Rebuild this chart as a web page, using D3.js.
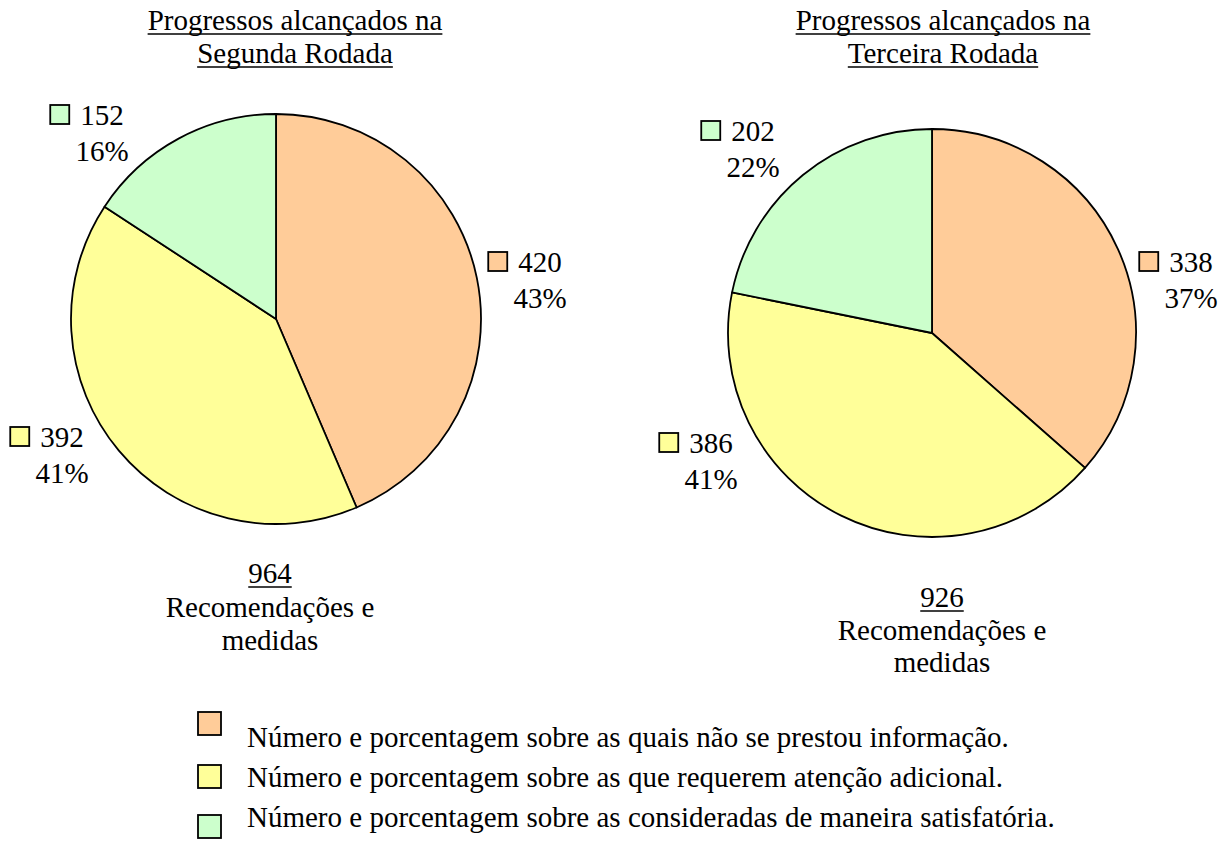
<!DOCTYPE html>
<html><head><meta charset="utf-8">
<script src="https://cdn.jsdelivr.net/npm/d3@7/dist/d3.min.js"></script></head>
<body style="margin:0">
<svg id="chart" width="1228" height="842"></svg>
<script>
// Categories (in slice order, clockwise from 12 o'clock)
const categories = ["sem informação", "atenção adicional", "satisfatória"];
const sliceColors = ["#FFCC99", "#FFFF99", "#CCFFCC"];

// Series values
const segundaValues = [420, 392, 152];
const terceiraValues = [338, 386, 202];

// Percentage labels as printed on each slice
const segundaPercents = ["43%", "41%", "16%"];
const terceiraPercents = ["37%", "41%", "22%"];

// Titles and totals text
const segundaTitle = ["Progressos alcançados na", "Segunda Rodada"];
const terceiraTitle = ["Progressos alcançados na", "Terceira Rodada"];
const totalCaption = ["Recomendações e", "medidas"];

// Legend entries
const legendLabels = [
  "Número e porcentagem sobre as quais não se prestou informação.",
  "Número e porcentagem sobre as que requerem atenção adicional.",
  "Número e porcentagem sobre as consideradas de maneira satisfatória."
];

const FONT = 29;
const svg = d3.select("#chart");

function txt(sel) {
  return sel.style("font-family", '"Liberation Serif"')
    .style("font-size", FONT + "px");
}

// Underline drawn as a line under a centred text element
function underline(textSel) {
  const w = textSel.node().getComputedTextLength();
  const x = +textSel.attr("x"), y = +textSel.attr("y");
  svg.append("line")
    .attr("x1", x - w / 2).attr("x2", x + w / 2)
    .attr("y1", y + 4).attr("y2", y + 4)
    .attr("stroke", "#000").attr("stroke-width", 1.6);
}

const charts = [
  {
    values: segundaValues, percents: segundaPercents, title: segundaTitle,
    cx: 276, cy: 319, r: 205,
    titleX: 295, titleY: [30, 63],
    totalX: 270, totalY: [583, 617, 650],
    // label anchor (number text centre) offsets from pie centre
    labelOffsets: [[264, -57], [-214, 118], [-174, -204]]
  },
  {
    values: terceiraValues, percents: terceiraPercents, title: terceiraTitle,
    cx: 932, cy: 333, r: 204,
    titleX: 943, titleY: [30, 63],
    totalX: 942, totalY: [607, 640, 672],
    labelOffsets: [[259, -71], [-221, 110], [-179, -202]]
  }
];

const pie = d3.pie().sort(null).value(d => d).startAngle(0).endAngle(2 * Math.PI);
const color = d3.scaleOrdinal().domain(d3.range(categories.length)).range(sliceColors);

charts.forEach(c => {
  const total = d3.sum(c.values);

  // Title (underlined)
  c.title.forEach((t, i) => {
    const tt = svg.append("text")
      .call(txt)
      .attr("x", c.titleX).attr("y", c.titleY[i])
      .attr("text-anchor", "middle")
      .text(t);
    underline(tt);
  });

  // Pie slices
  const arc = d3.arc().innerRadius(0).outerRadius(c.r);
  const pg = svg.append("g").attr("transform", `translate(${c.cx},${c.cy})`);
  pg.selectAll("path").data(pie(c.values)).join("path")
    .attr("d", arc)
    .attr("fill", (d, i) => color(i))
    .attr("stroke", "#000")
    .attr("stroke-width", 1.8)
    .attr("stroke-linejoin", "round");

  // Data labels: coloured key square, value, then percentage
  c.values.forEach((v, i) => {
    const [ox, oy] = c.labelOffsets[i];
    const nx = c.cx + ox, ny = c.cy + oy;
    const numText = svg.append("text")
      .call(txt)
      .attr("x", nx).attr("y", ny + 10)
      .attr("text-anchor", "middle")
      .text(String(v));
    const w = numText.node().getComputedTextLength();
    svg.append("rect")
      .attr("x", nx - w / 2 - 30).attr("y", ny - 10)
      .attr("width", 19).attr("height", 19)
      .attr("fill", color(i))
      .attr("stroke", "#000").attr("stroke-width", 1.8);
    svg.append("text")
      .call(txt)
      .attr("x", nx).attr("y", ny + 46)
      .attr("text-anchor", "middle")
      .text(c.percents[i]);
  });

  // Total caption
  const tot = svg.append("text")
    .call(txt)
    .attr("x", c.totalX).attr("y", c.totalY[0])
    .attr("text-anchor", "middle")
    .text(total);
  underline(tot);
  totalCaption.forEach((t, k) => {
    svg.append("text")
      .call(txt)
      .attr("x", c.totalX).attr("y", c.totalY[k + 1])
      .attr("text-anchor", "middle")
      .text(t);
  });
});

// Legend
const legendSquareY = [712, 765, 815];
const legendTextY = [747, 787, 827];
legendLabels.forEach((t, i) => {
  svg.append("rect")
    .attr("x", 198).attr("y", legendSquareY[i])
    .attr("width", 23).attr("height", 23)
    .attr("fill", color(i))
    .attr("stroke", "#000").attr("stroke-width", 1.8);
  svg.append("text")
    .call(txt)
    .attr("x", 247).attr("y", legendTextY[i])
    .text(t);
});
</script>
</body>
</html>
